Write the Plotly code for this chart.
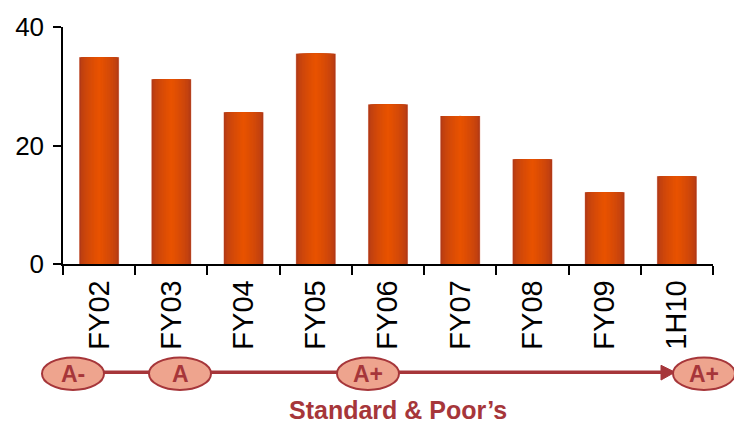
import plotly.graph_objects as go

# Fiscal periods and values
periods = ["FY02", "FY03", "FY04", "FY05", "FY06", "FY07", "FY08", "FY09", "1H10"]
values = [34.9, 31.2, 25.6, 35.5, 26.9, 25.0, 17.7, 12.1, 14.8]
y_ticks = [0, 20, 40]

# Standard & Poor's rating history shown under the axis
ratings = ["A-", "A", "A+", "A+"]
rating_caption = "Standard & Poor\u2019s"

W, H = 734, 426
L, R, T, B = 63, 21, 23, 162
FONT = "Arial, Liberation Sans, sans-serif"
DARK_RED = "#A6363A"
PINK = "#EEA48E"


def px_x(p):
    return (p - L) / (W - L - R)


def px_y(p):
    return (H - B - p) / (H - T - B)


def lerp(c1, c2, t):
    a = [int(c1[i:i + 2], 16) for i in (1, 3, 5)]
    b = [int(c2[i:i + 2], 16) for i in (1, 3, 5)]
    return "#" + "".join(f"{round(a[k] + (b[k] - a[k]) * t):02X}" for k in range(3))


fig = go.Figure()

# Cylinder-like shading: stacked bars of shrinking width, dark edge to bright core
bar_w = 0.555
fig.add_trace(go.Bar(x=periods, y=values, width=bar_w, marker_color="#EAB0A0",
                     marker_line_width=0, hoverinfo="skip", showlegend=False))
edge, core = "#B23A16", "#E85200"
n = 14
for i in range(n):
    t = i / (n - 1)
    w = (bar_w - 0.012) * (1 - t) + 0.03 * t
    shade = t ** 0.6
    fig.add_trace(go.Bar(x=periods, y=values, width=w, marker_color=lerp(edge, core, shade),
                         marker_line_width=0, hoverinfo="skip", showlegend=False))

shapes = []
line_y = px_y(374)
# connecting line and arrow head
shapes.append(dict(type="line", xref="paper", yref="paper", x0=px_x(100), x1=px_x(664),
                   y0=line_y, y1=line_y, line=dict(color=DARK_RED, width=3.5), layer="above"))
tip, base = px_x(675), px_x(661)
shapes.append(dict(type="path", xref="paper", yref="paper",
                   path=f"M {base},{px_y(367)} L {tip},{line_y} L {base},{px_y(382)} Z",
                   fillcolor=DARK_RED, line=dict(color=DARK_RED, width=1), layer="above"))

centers = [73, 180, 368, 704]
annotations = []
for c, r in zip(centers, ratings):
    shapes.append(dict(type="circle", xref="paper", yref="paper",
                       x0=px_x(c - 31), x1=px_x(c + 31), y0=px_y(392), y1=px_y(359),
                       fillcolor=PINK, line=dict(color=DARK_RED, width=2), layer="above"))
    annotations.append(dict(x=px_x(c), y=px_y(376), xref="paper", yref="paper",
                            xanchor="center", yanchor="middle",
                            text=f"<b>{r}</b>", showarrow=False,
                            font=dict(family=FONT, size=23, color=DARK_RED)))

annotations.append(dict(x=px_x(398), y=px_y(412), xref="paper", yref="paper",
                        xanchor="center", yanchor="middle",
                        text=f"<b>{rating_caption}</b>", showarrow=False,
                        font=dict(family=FONT, size=25, color=DARK_RED)))

fig.update_layout(
    width=W, height=H,
    margin=dict(l=L, r=R, t=T, b=B),
    paper_bgcolor="white", plot_bgcolor="white",
    barmode="overlay",
    font=dict(family=FONT, color="black"),
    shapes=shapes,
    annotations=annotations,
    xaxis=dict(type="category", tickangle=-90, tickson="boundaries", ticks="outside",
               ticklen=9, tickwidth=1.5, tickcolor="black", showline=True,
               linecolor="black", linewidth=1.5, showgrid=False, zeroline=False,
               ticklabelstandoff=3,
               tickfont=dict(size=29, family=FONT, color="black"), range=[-0.5, 8.5]),
    yaxis=dict(range=[0, 40], tickvals=y_ticks, ticks="outside", ticklen=8, tickwidth=1.5,
               tickcolor="black", showline=True, linecolor="black", linewidth=1.5,
               showgrid=False, zeroline=False, ticklabelstandoff=4,
               tickfont=dict(size=26, family=FONT, color="black")),
)

fig.write_html("out.html")
